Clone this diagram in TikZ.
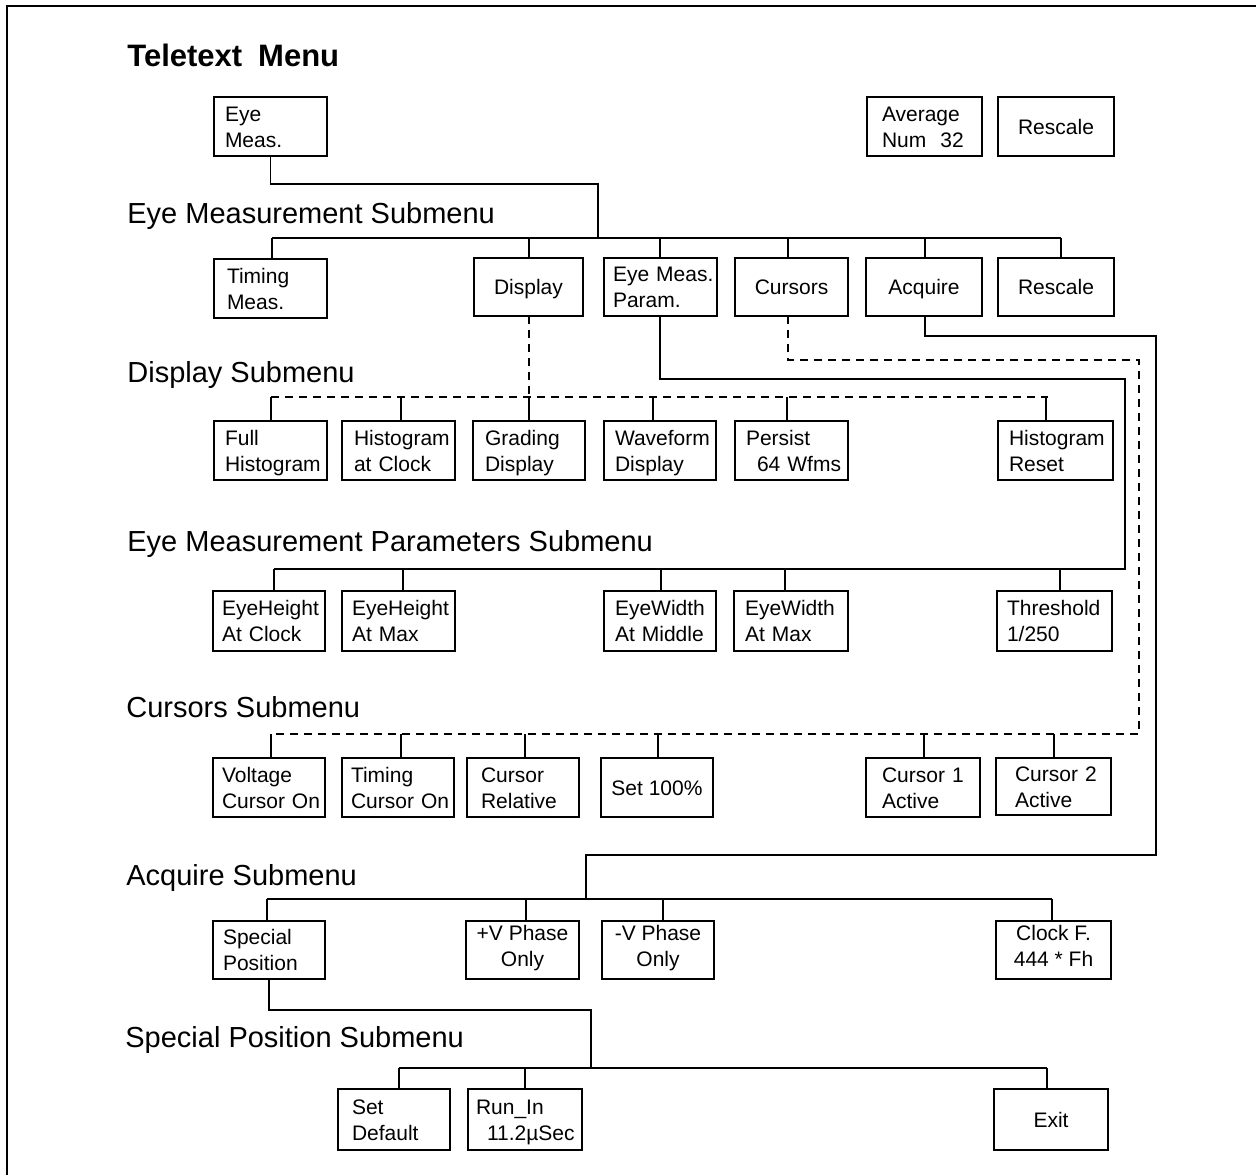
\documentclass[tikz,border=0pt]{standalone}
\usepackage{fontspec}
\setmainfont{Liberation Sans}
\newcommand\lbx[7]{%
  \pgfmathsetmacro\bw{(#4-#2)*0.5}%
  \pgfmathsetmacro\bh{(#5-#3)*0.5}%
  \pgfmathsetmacro\tw{(#4-#2-2*#6)*0.5}%
  \pgfmathsetmacro\ip{#6*0.5}%
  \node[lbox,minimum width=\bw pt,minimum height=\bh pt,text width=\tw pt,inner xsep=\ip pt] (#1) at ({(#2+#4)/2},{(#3+#5)/2}) {#7};}
\newcommand\cbx[6]{%
  \pgfmathsetmacro\bw{(#4-#2)*0.5}%
  \pgfmathsetmacro\bh{(#5-#3)*0.5}%
  \node[cbox,minimum width=\bw pt,minimum height=\bh pt] (#1) at ({(#2+#4)/2},{(#3+#5)/2}) {#6};}
\newcommand\drop[3]{\draw[conn] (#2,#3) -- (#2,#3 |- #1.north);}
\begin{document}
\begin{tikzpicture}[x=0.5pt,y=-0.5pt,
  box/.style={draw,line width=0.9pt,font=\fontsize{10.5}{13}\selectfont,outer sep=0pt,inner ysep=0pt,
    execute at begin node={\rule{0pt}{11.6pt}}, execute at end node=\strut},
  lbox/.style={box,align=left},
  cbox/.style={box,align=center,inner xsep=0pt},
  conn/.style={line width=0.9pt},
  dconn/.style={line width=0.9pt,dash pattern=on 4pt off 3pt},
  head/.style={anchor=base west,inner sep=0pt,font=\fontsize{14.5}{17}\selectfont}]
\useasboundingbox (0,0) rectangle (1256,1175);
\draw[line width=1.1pt] (7,1175) -- (7,6) -- (1256,6);

% headings
\node[head,font=\fontsize{15.5}{18}\selectfont\bfseries] (title) at (127,66) {Teletext\hspace{8pt}Menu};
\node[head] (h1) at (127,223) {Eye Measurement Submenu};
\node[head] (h2) at (127,382) {Display Submenu};
\node[head] (h3) at (127,551) {Eye Measurement Parameters Submenu};
\node[head] (h4) at (126,717) {Cursors Submenu};
\node[head] (h5) at (126,885) {Acquire Submenu};
\node[head] (h6) at (125,1047) {Special Position Submenu};

% row 0
\lbx{eye}{214}{97}{327}{156}{11}{Eye\\Meas.}
\lbx{avg}{867}{97}{982}{156}{15}{Average\\Num~~32}
\cbx{resc0}{998}{97}{1114}{156}{Rescale}

% row 1
\lbx{tim}{214}{259}{327}{318}{13}{Timing\\Meas.}
\cbx{disp}{474}{258}{583}{316}{Display}
\lbx{emp}{604}{258}{717}{316}{9}{Eye~Meas.\\Param.}
\cbx{cur}{735}{258}{848}{316}{Cursors}
\cbx{acq}{866}{258}{982}{316}{Acquire}
\cbx{resc1}{998}{258}{1114}{316}{Rescale}

% row 2
\lbx{fullh}{214}{421}{327}{480}{11}{Full\\Histogram}
\lbx{hclk}{342}{421}{455}{480}{12}{Histogram\\at~Clock}
\lbx{grad}{473}{421}{585}{480}{12}{Grading\\Display}
\lbx{wave}{604}{421}{716}{480}{11}{Waveform\\Display}
\lbx{pers}{735}{421}{848}{480}{11}{Persist\\\hspace*{5.5pt}64~Wfms}
\lbx{hres}{998}{421}{1113}{480}{11}{Histogram\\Reset}

% row 3
\lbx{ehc}{213}{591}{325}{651}{9}{EyeHeight\\At~Clock}
\lbx{ehm}{342}{591}{455}{651}{10}{EyeHeight\\At~Max}
\lbx{ewm}{604}{591}{716}{651}{11}{EyeWidth\\At~Middle}
\lbx{ewx}{734}{591}{848}{651}{11}{EyeWidth\\At~Max}
\lbx{thr}{997}{591}{1112}{651}{10}{Threshold\\1/250}

% row 4
\lbx{vco}{213}{758}{325}{817}{9}{Voltage\\Cursor~On}
\lbx{tco}{342}{758}{454}{817}{9}{Timing\\Cursor~On}
\lbx{crel}{467}{758}{579}{817}{14}{Cursor\\Relative}
\cbx{s100}{601}{758}{713}{817}{Set~100\%}
\lbx{c1a}{866}{758}{980}{817}{16}{Cursor~1\\Active}
\lbx{c2a}{996}{758}{1111}{815}{19}{Cursor~2\\Active}

% row 5
\lbx{spos}{213}{921}{325}{979}{10}{Special\\Position}
\cbx{vp}{466}{921}{579}{979}{+V~Phase\\Only}
\cbx{vm}{602}{921}{714}{979}{-V~Phase\\Only}
\cbx{clk}{996}{921}{1111}{979}{Clock~F.\\444~*~Fh}

% row 6
\lbx{sdef}{338}{1089}{450}{1150}{14}{Set\\Default}
\lbx{runin}{468}{1089}{582}{1150}{8}{Run\_In\\\hspace*{5.5pt}11.2µSec}
\cbx{exit}{994}{1089}{1108}{1150}{Exit}

% --- Eye Meas. -> Eye Measurement Submenu
\coordinate (e1) at (598,184);
\coordinate (e2) at (598,238);
\draw[conn] (eye.south) |- (e1) -- (e2);
\coordinate (b1L) at (272,238);
\coordinate (b1R) at (1061,238);
\draw[conn] (b1L) -- (b1R);
\drop{tim}{272}{238}
\drop{disp}{529}{238}
\drop{emp}{660}{238}
\drop{cur}{788}{238}
\drop{acq}{925}{238}
\drop{resc1}{1061}{238}

% --- Display -> Display Submenu (dashed)
\coordinate (d1) at (529,397);
\draw[dconn] ([xshift=0.25pt]disp.south) -- (d1);
\coordinate (dL) at (271,397);
\coordinate (dR) at (1048,397);
\draw[dconn] (dL) -- (dR);
\drop{fullh}{271}{397}
\drop{hclk}{401}{397}
\drop{grad}{529}{397}
\drop{wave}{653}{397}
\drop{pers}{787}{397}
\drop{hres}{1046}{397}

% --- Eye Meas. Param. -> Parameters Submenu
\coordinate (p2) at (1125,379);
\coordinate (p3) at (1125,569);
\coordinate (pL) at (274,569);
\draw[conn] ([xshift=-0.25pt]emp.south) |- (p2) -- (p3) -- (pL);
\drop{ehc}{274}{569}
\drop{ehm}{403}{569}
\drop{ewm}{661}{569}
\drop{ewx}{785}{569}
\drop{thr}{1060}{569}

% --- Cursors -> Cursors Submenu (dashed)
\coordinate (c2) at (1139,360);
\coordinate (c3) at (1139,734);
\coordinate (cL) at (271,734);
\draw[dconn] ([xshift=-1.75pt]cur.south) |- (c2) -- (c3) -- (cL);
\drop{vco}{271}{734}
\drop{tco}{401}{734}
\drop{crel}{525}{734}
\drop{s100}{658}{734}
\drop{c1a}{924}{734}
\drop{c2a}{1054}{734}

% --- Acquire -> Acquire Submenu
\coordinate (a2) at (1156,336);
\coordinate (a3) at (1156,855);
\coordinate (a4) at (586,855);
\coordinate (a5) at (586,899);
\draw[conn] ([xshift=0.5pt]acq.south) |- (a2) -- (a3) -- (a4) -- (a5);
\coordinate (aL) at (267,899);
\coordinate (aR) at (1052,899);
\draw[conn] (aL) -- (aR);
\drop{spos}{267}{899}
\drop{vp}{526}{899}
\drop{vm}{663}{899}
\drop{clk}{1052}{899}

% --- Special Position -> Special Position Submenu
\coordinate (s2) at (591,1010);
\coordinate (s3) at (591,1068);
\draw[conn] (spos.south) |- (s2) -- (s3);
\coordinate (sL) at (399,1068);
\coordinate (sR) at (1047,1068);
\draw[conn] (sL) -- (sR);
\drop{sdef}{399}{1068}
\drop{runin}{525}{1068}
\drop{exit}{1047}{1068}
\end{tikzpicture}
\end{document}
